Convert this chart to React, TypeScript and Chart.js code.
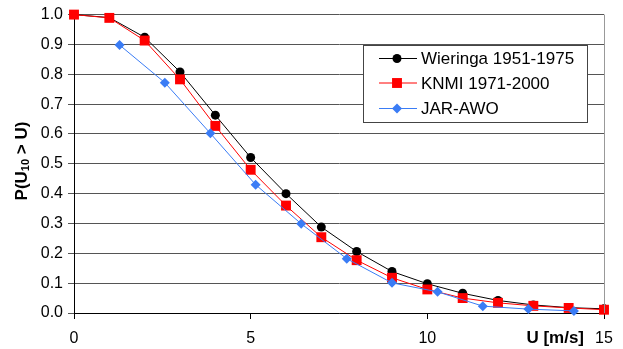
import React, { useEffect, useRef } from "react";
import { Chart, registerables } from "chart.js";

Chart.register(...registerables);

const wieringaX = [0, 1, 2, 3, 4, 5, 6, 7, 8, 9, 10, 11, 12, 13, 14, 15];
const wieringaY = [1.0, 0.99, 0.924, 0.808, 0.663, 0.521, 0.4, 0.288, 0.206, 0.139, 0.098, 0.066, 0.042, 0.027, 0.018, 0.014];
const knmiX = [0, 1, 2, 3, 4, 5, 6, 7, 8, 9, 10, 11, 12, 13, 14, 15];
const knmiY = [1.0, 0.989, 0.913, 0.783, 0.627, 0.48, 0.36, 0.254, 0.177, 0.118, 0.079, 0.05, 0.034, 0.024, 0.017, 0.011];
const jarX = [1.29, 2.57, 3.86, 5.14, 6.43, 7.72, 9.0, 10.29, 11.57, 12.86, 14.15];
const jarY = [0.898, 0.772, 0.602, 0.43, 0.299, 0.182, 0.101, 0.071, 0.023, 0.013, 0.007];

const seriesNames = ["Wieringa 1951-1975", "KNMI 1971-2000", "JAR-AWO"];
const seriesColors = ["#000000", "#ff0000", "#3a7cf5"];
const xTicks = [0, 5, 10, 15];

const FONT = "'Liberation Sans', Arial, sans-serif";

const zip = (xs: number[], ys: number[]) => xs.map((x, i) => ({ x, y: ys[i] }));

const overlay = {
  id: "overlay",
  afterDraw(chart: any) {
    const ctx = chart.ctx as CanvasRenderingContext2D;
    const area = chart.chartArea;
    const xs = chart.scales.x;
    ctx.save();
    // right border of plot area
    ctx.strokeStyle = "#999";
    ctx.lineWidth = 1;
    ctx.beginPath();
    ctx.moveTo(Math.round(area.right) + 0.5, area.top);
    ctx.lineTo(Math.round(area.right) + 0.5, area.bottom);
    ctx.stroke();

    // x axis title
    ctx.fillStyle = "#000";
    ctx.font = `bold 17px ${FONT}`;
    ctx.textAlign = "right";
    ctx.textBaseline = "middle";
    ctx.fillText("U [m/s]", xs.getPixelForValue(15) - 20, 338);

    // y axis title with subscript
    ctx.save();
    ctx.translate(22, 161);
    ctx.rotate(-Math.PI / 2);
    const parts = [
      { t: "P(U", f: `bold 17px ${FONT}`, dy: 0 },
      { t: "10", f: `bold 11px ${FONT}`, dy: 4 },
      { t: " > U)", f: `bold 17px ${FONT}`, dy: 0 },
    ];
    let total = 0;
    for (const p of parts) {
      ctx.font = p.f;
      total += ctx.measureText(p.t).width;
    }
    let cx = -total / 2;
    ctx.textAlign = "left";
    ctx.textBaseline = "middle";
    for (const p of parts) {
      ctx.font = p.f;
      ctx.fillText(p.t, cx, p.dy);
      cx += ctx.measureText(p.t).width;
    }
    ctx.restore();

    // legend
    const bx = 363, by = 45, bw = 224, bh = 77;
    ctx.fillStyle = "#fff";
    ctx.fillRect(bx, by, bw, bh);
    ctx.strokeStyle = "#444";
    ctx.strokeRect(bx + 0.5, by + 0.5, bw, bh);
    const rows = [58.5, 83, 108.5];
    const styles = ["circle", "rect", "rectRot"];
    const radii = [4.5, 7, 5];
    rows.forEach((ry, i) => {
      ctx.strokeStyle = seriesColors[i];
      ctx.lineWidth = 1;
      ctx.beginPath();
      ctx.moveTo(379, ry);
      ctx.lineTo(417, ry);
      ctx.stroke();
      ctx.fillStyle = seriesColors[i];
      (Chart as any).helpers?.drawPoint;
      drawMarker(ctx, styles[i], 397, ry, radii[i], seriesColors[i]);
      ctx.fillStyle = "#000";
      ctx.font = `17px ${FONT}`;
      ctx.textAlign = "left";
      ctx.textBaseline = "middle";
      ctx.fillText(seriesNames[i], 421, ry + 1);
    });
    ctx.restore();
  },
};

function drawMarker(ctx: CanvasRenderingContext2D, style: string, x: number, y: number, r: number, color: string) {
  ctx.save();
  ctx.fillStyle = color;
  ctx.beginPath();
  if (style === "circle") {
    ctx.arc(x, y, r, 0, Math.PI * 2);
  } else if (style === "rect") {
    const s = r * Math.SQRT1_2;
    ctx.rect(x - s, y - s, 2 * s, 2 * s);
  } else {
    ctx.moveTo(x, y - r);
    ctx.lineTo(x + r, y);
    ctx.lineTo(x, y + r);
    ctx.lineTo(x - r, y);
    ctx.closePath();
  }
  ctx.fill();
  ctx.restore();
}

export default function App() {
  const ref = useRef<HTMLCanvasElement>(null);
  useEffect(() => {
    document.body.style.margin = "0";
    const chart = new Chart(ref.current!, {
      type: "line",
      data: {
        datasets: [
          {
            label: seriesNames[0],
            data: zip(wieringaX, wieringaY),
            borderColor: seriesColors[0],
            backgroundColor: seriesColors[0],
            borderWidth: 1,
            pointStyle: "circle",
            pointRadius: 4.5,
            pointBorderWidth: 0,
          },
          {
            label: seriesNames[1],
            data: zip(knmiX, knmiY),
            borderColor: seriesColors[1],
            backgroundColor: seriesColors[1],
            borderWidth: 1,
            pointStyle: "rect",
            pointRadius: 7,
            pointBorderWidth: 0,
          },
          {
            label: seriesNames[2],
            data: zip(jarX, jarY),
            borderColor: seriesColors[2],
            backgroundColor: seriesColors[2],
            borderWidth: 1,
            pointStyle: "rectRot",
            pointRadius: 5,
            pointBorderWidth: 0,
          },
        ].reverse() as any,
      },
      options: {
        animation: false,
        responsive: false,
        clip: false as any,
        layout: { padding: { left: 0, right: 19, top: 14, bottom: 0 } },
        plugins: { legend: { display: false }, tooltip: { enabled: false } },
        scales: {
          x: {
            type: "linear",
            min: 0,
            max: 15,
            afterBuildTicks: (s: any) => {
              s.ticks = xTicks.map((v) => ({ value: v }));
            },
            afterFit: (s: any) => {
              s.height = 36;
            },
            grid: { drawOnChartArea: false, drawTicks: true, tickLength: 6, color: "#000" },
            border: { color: "#000", width: 1 },
            ticks: {
              color: "#000",
              font: { family: FONT, size: 16 },
              padding: 10,
              maxRotation: 0,
              autoSkip: false,
            },
          },
          y: {
            type: "linear",
            min: 0,
            max: 1,
            afterFit: (s: any) => {
              s.width = 74;
            },
            grid: { drawOnChartArea: true, drawTicks: true, tickLength: 6, color: "#555" },
            border: { color: "#000", width: 1 },
            ticks: {
              stepSize: 0.1,
              color: "#000",
              font: { family: FONT, size: 16 },
              padding: 5,
              callback: (v: any) => Number(v).toFixed(1),
            },
          },
        },
      },
      plugins: [overlay],
    });
    return () => chart.destroy();
  }, []);
  return (
    <div style={{ position: "absolute", left: 0, top: 0, width: 623, height: 349, background: "#fff" }}>
      <canvas ref={ref} width={623} height={349} style={{ width: 623, height: 349 }} />
    </div>
  );
}
